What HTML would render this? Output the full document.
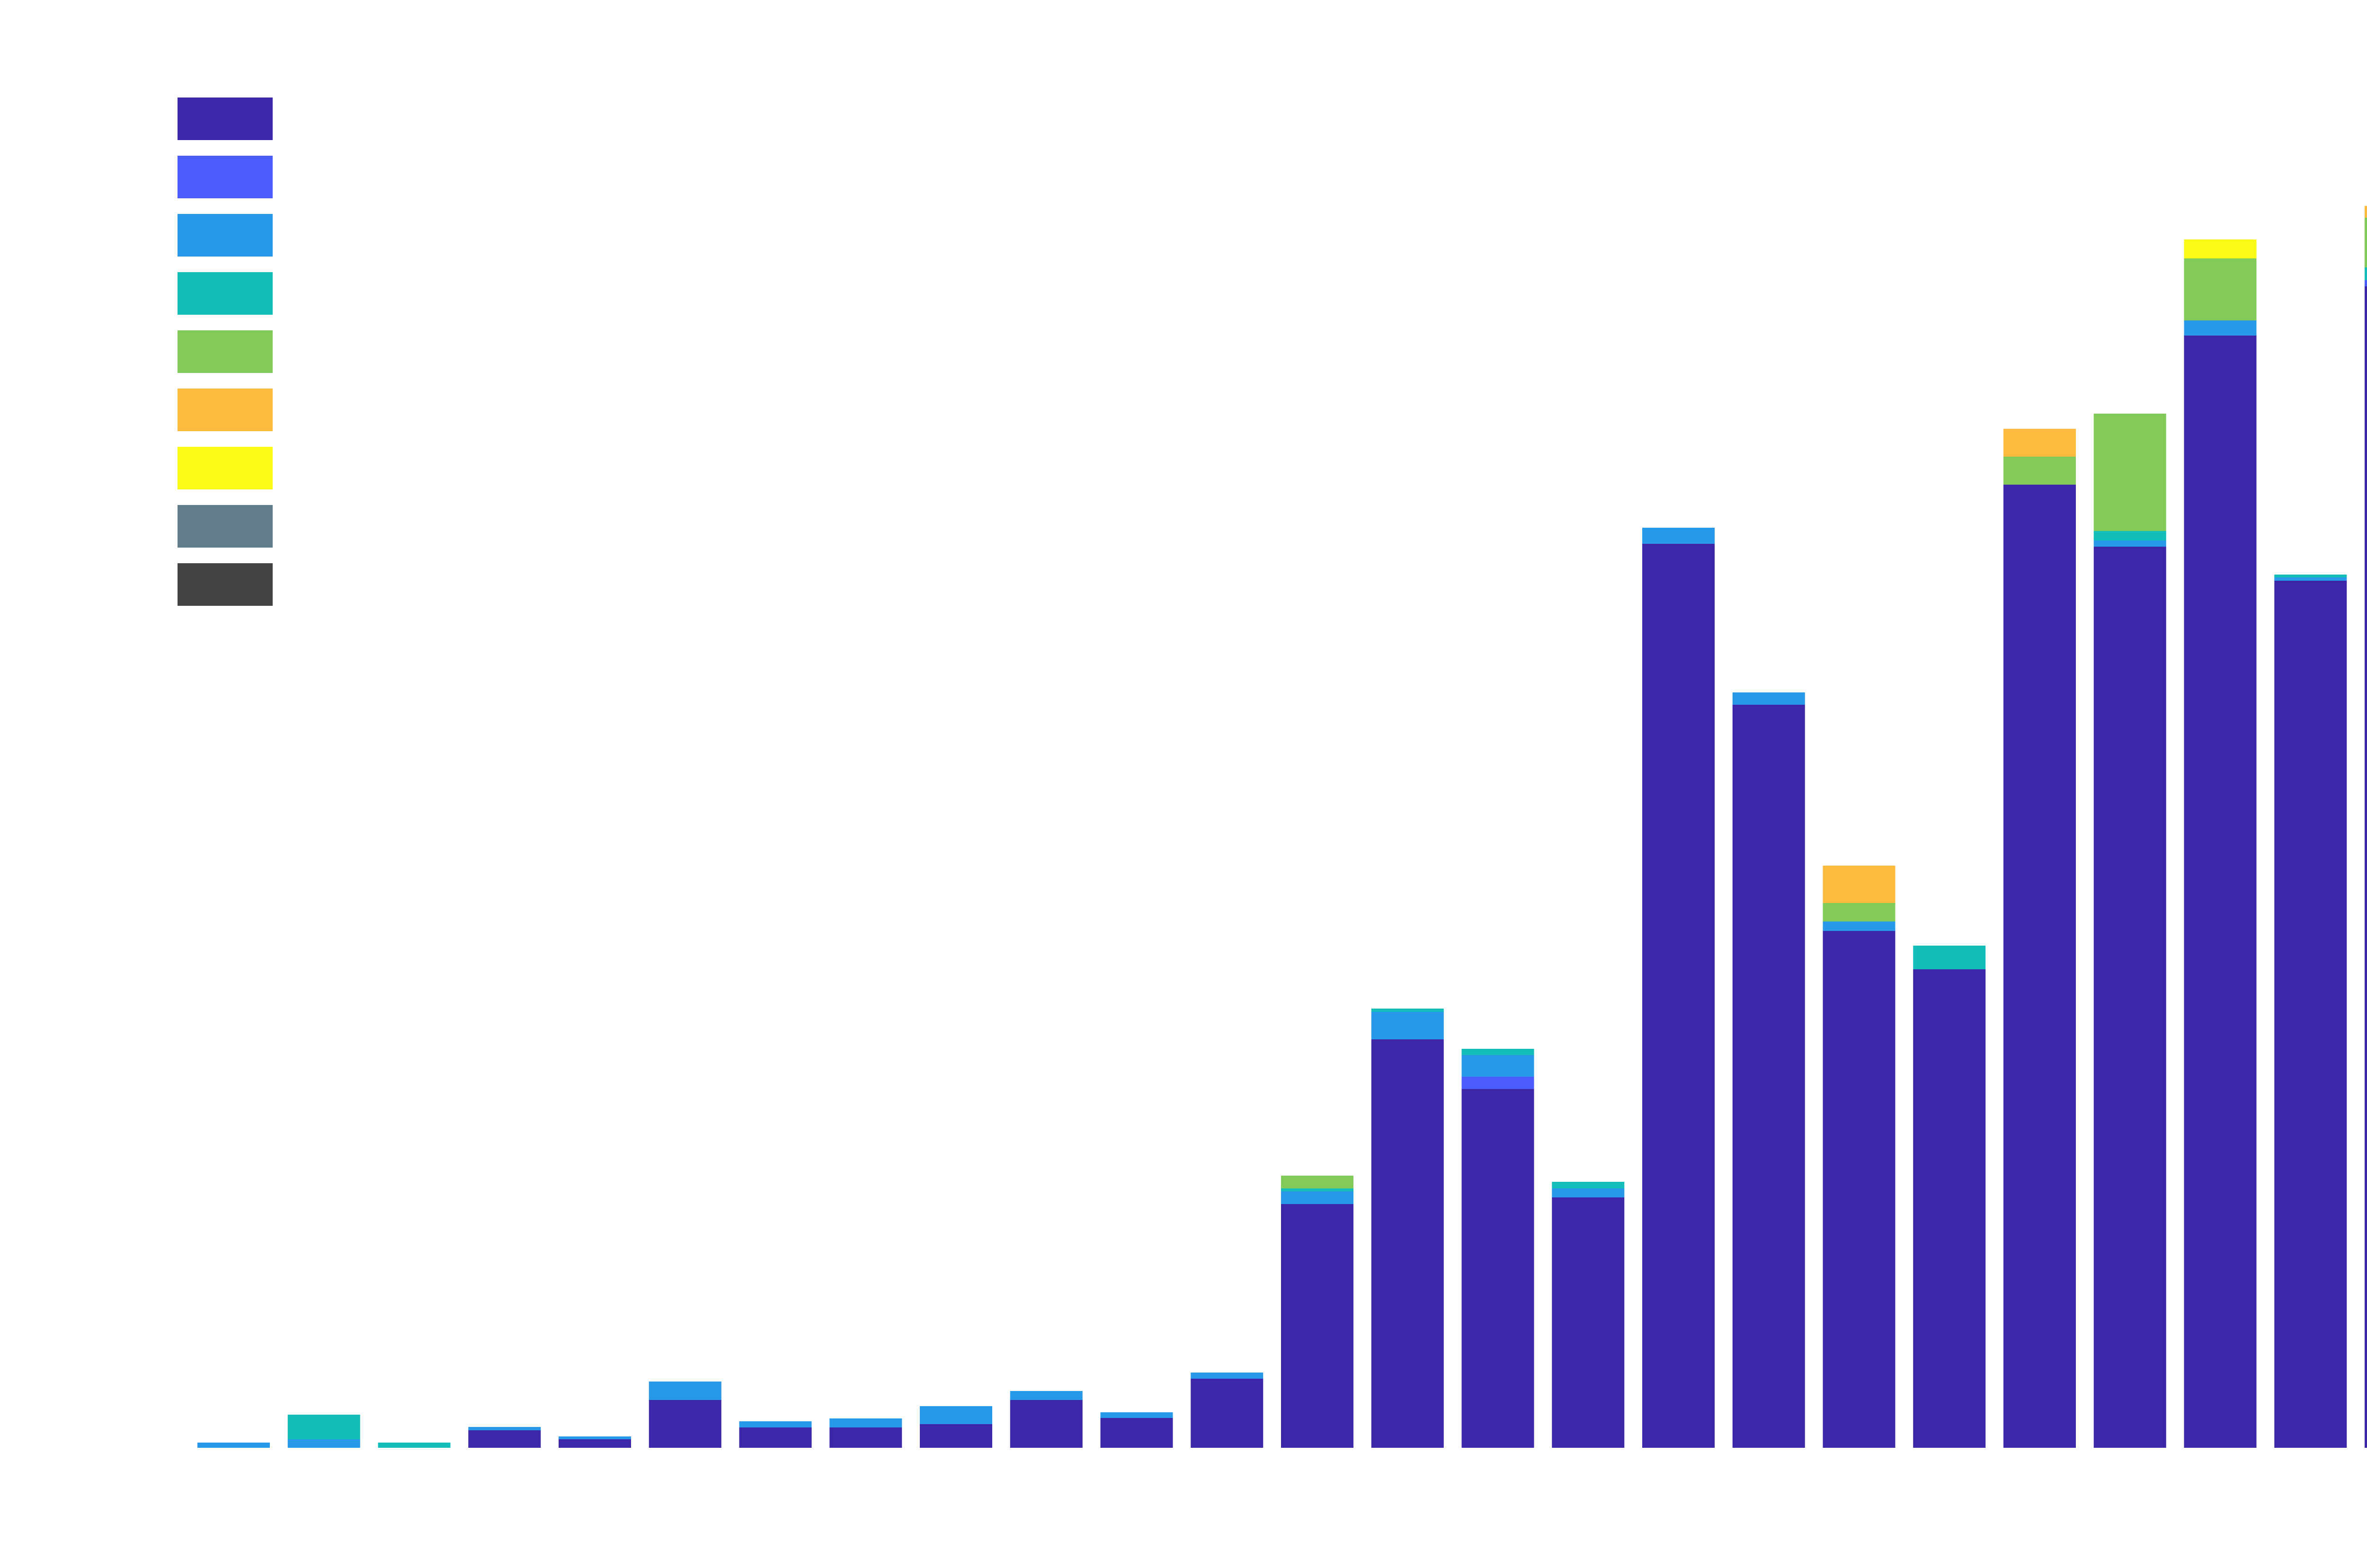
<!DOCTYPE html>
<html style="width:5263px;height:3313px;overflow:hidden;margin:0;padding:0"><head><meta charset="utf-8"><meta name="viewport" content="width=5263"><style>
html,body{margin:0;padding:0;background:#fff;}
body{width:5263px;height:3313px;overflow:hidden;}
svg{display:block;}
</style></head><body style="width:5263px;height:3313px;overflow:hidden;margin:0">
<svg width="5263" height="3313" viewBox="0 0 5263 3313" xmlns="http://www.w3.org/2000/svg">
<rect width="5263" height="3313" fill="#fff"/>
<rect x="375" y="206" width="201" height="90" fill="#3d26a8"/>
<rect x="375" y="329" width="201" height="90" fill="#4a5cf9"/>
<rect x="375" y="452" width="201" height="90" fill="#2898e9"/>
<rect x="375" y="575" width="201" height="90" fill="#13bdb9"/>
<rect x="375" y="698" width="201" height="90" fill="#82cb5a"/>
<rect x="375" y="821" width="201" height="90" fill="#fcba3e"/>
<rect x="375" y="944" width="201" height="90" fill="#f9fb16"/>
<rect x="375" y="1067" width="201" height="90" fill="#617d8a"/>
<rect x="375" y="1190" width="201" height="90" fill="#434343"/>

<g transform="translate(417,0)"><rect y="3048" width="153" height="11" fill="#2898e9"/></g>
<g transform="translate(607.75,0)"><rect y="3041" width="153" height="18" fill="#2898e9"/><rect y="2989" width="153" height="52" fill="#13bdb9"/></g>
<g transform="translate(798.5,0)"><rect y="3048" width="153" height="11" fill="#13bdb9"/></g>
<g transform="translate(989.25,0)"><rect y="3022" width="153" height="37" fill="#3d26a8"/><rect y="3015" width="153" height="7" fill="#2898e9"/></g>
<g transform="translate(1180,0)"><rect y="3041" width="153" height="18" fill="#3d26a8"/><rect y="3035" width="153" height="6" fill="#2898e9"/></g>
<g transform="translate(1370.75,0)"><rect y="2958" width="153" height="101" fill="#3d26a8"/><rect y="2919" width="153" height="39" fill="#2898e9"/></g>
<g transform="translate(1561.5,0)"><rect y="3016" width="153" height="43" fill="#3d26a8"/><rect y="3003" width="153" height="13" fill="#2898e9"/></g>
<g transform="translate(1752.25,0)"><rect y="3016" width="153" height="43" fill="#3d26a8"/><rect y="2997" width="153" height="19" fill="#2898e9"/></g>
<g transform="translate(1943,0)"><rect y="3009" width="153" height="50" fill="#3d26a8"/><rect y="2971" width="153" height="38" fill="#2898e9"/></g>
<g transform="translate(2133.75,0)"><rect y="2958" width="153" height="101" fill="#3d26a8"/><rect y="2939" width="153" height="19" fill="#2898e9"/></g>
<g transform="translate(2324.5,0)"><rect y="2996" width="153" height="63" fill="#3d26a8"/><rect y="2984" width="153" height="12" fill="#2898e9"/></g>
<g transform="translate(2515.25,0)"><rect y="2913" width="153" height="146" fill="#3d26a8"/><rect y="2900" width="153" height="13" fill="#2898e9"/></g>
<g transform="translate(2706,0)"><rect y="2544" width="153" height="515" fill="#3d26a8"/><rect y="2517" width="153" height="27" fill="#2898e9"/><rect y="2511" width="153" height="6" fill="#13bdb9"/><rect y="2484" width="153" height="27" fill="#82cb5a"/></g>
<g transform="translate(2896.75,0)"><rect y="2196" width="153" height="863" fill="#3d26a8"/><rect y="2138" width="153" height="58" fill="#2898e9"/><rect y="2131" width="153" height="7" fill="#13bdb9"/></g>
<g transform="translate(3087.5,0)"><rect y="2301" width="153" height="758" fill="#3d26a8"/><rect y="2275" width="153" height="26" fill="#4a5cf9"/><rect y="2229" width="153" height="46" fill="#2898e9"/><rect y="2216" width="153" height="13" fill="#13bdb9"/></g>
<g transform="translate(3278.25,0)"><rect y="2530" width="153" height="529" fill="#3d26a8"/><rect y="2511" width="153" height="19" fill="#2898e9"/><rect y="2497" width="153" height="14" fill="#13bdb9"/></g>
<g transform="translate(3469,0)"><rect y="1149" width="153" height="1910" fill="#3d26a8"/><rect y="1115" width="153" height="34" fill="#2898e9"/></g>
<g transform="translate(3659.75,0)"><rect y="1489" width="153" height="1570" fill="#3d26a8"/><rect y="1463" width="153" height="26" fill="#2898e9"/></g>
<g transform="translate(3850.5,0)"><rect y="1967" width="153" height="1092" fill="#3d26a8"/><rect y="1947" width="153" height="20" fill="#2898e9"/><rect y="1908" width="153" height="39" fill="#82cb5a"/><rect y="1829" width="153" height="79" fill="#fcba3e"/></g>
<g transform="translate(4041.25,0)"><rect y="2048" width="153" height="1011" fill="#3d26a8"/><rect y="1998" width="153" height="50" fill="#13bdb9"/></g>
<g transform="translate(4232,0)"><rect y="1024" width="153" height="2035" fill="#3d26a8"/><rect y="965" width="153" height="59" fill="#82cb5a"/><rect y="906" width="153" height="59" fill="#fcba3e"/></g>
<g transform="translate(4422.75,0)"><rect y="1155" width="153" height="1904" fill="#3d26a8"/><rect y="1142" width="153" height="13" fill="#2898e9"/><rect y="1122" width="153" height="20" fill="#13bdb9"/><rect y="874" width="153" height="248" fill="#82cb5a"/></g>
<g transform="translate(4613.5,0)"><rect y="709" width="153" height="2350" fill="#3d26a8"/><rect y="677" width="153" height="32" fill="#2898e9"/><rect y="546" width="153" height="131" fill="#82cb5a"/><rect y="506" width="153" height="40" fill="#f9fb16"/></g>
<g transform="translate(4804.25,0)"><rect y="1227" width="153" height="1832" fill="#3d26a8"/><rect y="1220" width="153" height="7" fill="#2898e9"/><rect y="1214" width="153" height="6" fill="#13bdb9"/></g>
<g transform="translate(4995,0)"><rect y="605" width="153" height="2454" fill="#3d26a8"/><rect y="592" width="153" height="13" fill="#4a5cf9"/><rect y="565" width="153" height="27" fill="#13bdb9"/><rect y="460" width="153" height="105" fill="#82cb5a"/><rect y="435" width="153" height="25" fill="#fcba3e"/></g>
<g transform="translate(5186,0)"><rect y="1168" width="76" height="1891" fill="#434343"/><rect y="130" width="76" height="1038" fill="#617d8a"/></g>
</svg>
</body></html>
